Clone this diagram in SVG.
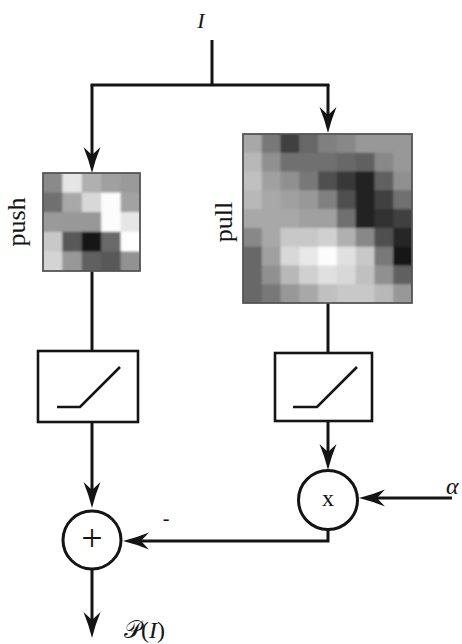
<svg xmlns="http://www.w3.org/2000/svg" xmlns:xlink="http://www.w3.org/1999/xlink" width="462" height="644" viewBox="0 0 462 644">
  <style>
    .wire { fill: none; stroke: #141414; stroke-width: 3; }
    .arrow { fill: none; stroke: #141414; stroke-width: 3; marker-end: url(#head); }
    .block { fill: #ffffff; stroke: #141414; stroke-width: 2.6; }
    .ramp { fill: none; stroke: #141414; stroke-width: 2.6; stroke-linejoin: miter; }
    .op { fill: #ffffff; stroke: #141414; stroke-width: 3; }
    .frame { fill: none; stroke: #555555; stroke-width: 1.8; }
    .label { font-family: "Liberation Serif", "DejaVu Serif", serif; fill: #141414; }
    .math { font-family: "Liberation Serif", "DejaVu Serif", serif; font-style: italic; fill: #141414; }
    .up { font-style: normal; }
  </style>
  <defs>
    <!-- LaTeX-style stealth head; tip sits 10 units past the path end -->
    <marker id="head" markerUnits="userSpaceOnUse" viewBox="-20 -10 32 20" markerWidth="32" markerHeight="20" refX="0" refY="0" orient="auto" overflow="visible">
      <path d="M10,0 Q-3,-3.2 -16,-8.5 L-8,0 L-16,8.5 Q-3,3.2 10,0 Z" fill="#141414"/>
    </marker>
    <filter id="soft" x="-10%" y="-10%" width="120%" height="120%">
      <feGaussianBlur stdDeviation="1.3"/>
    </filter>
    <clipPath id="clipPush"><rect x="43" y="173" width="97" height="98"/></clipPath>
    <clipPath id="clipPull"><rect x="243" y="134" width="169" height="169"/></clipPath>

    <!-- 5x5 push weights, one unit per cell -->
    <g id="pushCells">
      <rect x="0" y="0" width="1.02" height="1.02" fill="#8a8a8a"/>
      <rect x="1" y="0" width="1.02" height="1.02" fill="#e6e6e6"/>
      <rect x="2" y="0" width="1.02" height="1.02" fill="#b0b0b0"/>
      <rect x="3" y="0" width="1.02" height="1.02" fill="#a0a0a0"/>
      <rect x="4" y="0" width="1.02" height="1.02" fill="#9a9a9a"/>
      <rect x="0" y="1" width="1.02" height="1.02" fill="#707070"/>
      <rect x="1" y="1" width="1.02" height="1.02" fill="#a8a8a8"/>
      <rect x="2" y="1" width="1.02" height="1.02" fill="#d8d8d8"/>
      <rect x="3" y="1" width="1.02" height="1.02" fill="#fcfcfc"/>
      <rect x="4" y="1" width="1.02" height="1.02" fill="#a2a2a2"/>
      <rect x="0" y="2" width="1.02" height="1.02" fill="#9a9a9a"/>
      <rect x="1" y="2" width="1.02" height="1.02" fill="#989898"/>
      <rect x="2" y="2" width="1.02" height="1.02" fill="#989898"/>
      <rect x="3" y="2" width="1.02" height="1.02" fill="#fcfcfc"/>
      <rect x="4" y="2" width="1.02" height="1.02" fill="#e6e6e6"/>
      <rect x="0" y="3" width="1.02" height="1.02" fill="#c8c8c8"/>
      <rect x="1" y="3" width="1.02" height="1.02" fill="#585858"/>
      <rect x="2" y="3" width="1.02" height="1.02" fill="#181818"/>
      <rect x="3" y="3" width="1.02" height="1.02" fill="#6a6a6a"/>
      <rect x="4" y="3" width="1.02" height="1.02" fill="#ffffff"/>
      <rect x="0" y="4" width="1.02" height="1.02" fill="#d4d4d4"/>
      <rect x="1" y="4" width="1.02" height="1.02" fill="#989898"/>
      <rect x="2" y="4" width="1.02" height="1.02" fill="#606060"/>
      <rect x="3" y="4" width="1.02" height="1.02" fill="#585858"/>
      <rect x="4" y="4" width="1.02" height="1.02" fill="#929292"/>
    </g>

    <!-- 9x9 pull weights, one unit per cell -->
    <g id="pullCells">
      <rect x="0" y="0" width="1.02" height="1.02" fill="#a8a8a8"/>
      <rect x="1" y="0" width="1.02" height="1.02" fill="#787878"/>
      <rect x="2" y="0" width="1.02" height="1.02" fill="#404040"/>
      <rect x="3" y="0" width="1.02" height="1.02" fill="#686868"/>
      <rect x="4" y="0" width="1.02" height="1.02" fill="#808080"/>
      <rect x="5" y="0" width="1.02" height="1.02" fill="#888888"/>
      <rect x="6" y="0" width="1.02" height="1.02" fill="#989898"/>
      <rect x="7" y="0" width="1.02" height="1.02" fill="#989898"/>
      <rect x="8" y="0" width="1.02" height="1.02" fill="#989898"/>

      <rect x="0" y="1" width="1.02" height="1.02" fill="#b8b8b8"/>
      <rect x="1" y="1" width="1.02" height="1.02" fill="#909090"/>
      <rect x="2" y="1" width="1.02" height="1.02" fill="#707070"/>
      <rect x="3" y="1" width="1.02" height="1.02" fill="#707070"/>
      <rect x="4" y="1" width="1.02" height="1.02" fill="#707070"/>
      <rect x="5" y="1" width="1.02" height="1.02" fill="#686868"/>
      <rect x="6" y="1" width="1.02" height="1.02" fill="#606060"/>
      <rect x="7" y="1" width="1.02" height="1.02" fill="#888888"/>
      <rect x="8" y="1" width="1.02" height="1.02" fill="#989898"/>

      <rect x="0" y="2" width="1.02" height="1.02" fill="#c0c0c0"/>
      <rect x="1" y="2" width="1.02" height="1.02" fill="#a0a0a0"/>
      <rect x="2" y="2" width="1.02" height="1.02" fill="#909090"/>
      <rect x="3" y="2" width="1.02" height="1.02" fill="#787878"/>
      <rect x="4" y="2" width="1.02" height="1.02" fill="#505050"/>
      <rect x="5" y="2" width="1.02" height="1.02" fill="#383838"/>
      <rect x="6" y="2" width="1.02" height="1.02" fill="#202020"/>
      <rect x="7" y="2" width="1.02" height="1.02" fill="#606060"/>
      <rect x="8" y="2" width="1.02" height="1.02" fill="#909090"/>

      <rect x="0" y="3" width="1.02" height="1.02" fill="#b8b8b8"/>
      <rect x="1" y="3" width="1.02" height="1.02" fill="#a8a8a8"/>
      <rect x="2" y="3" width="1.02" height="1.02" fill="#a0a0a0"/>
      <rect x="3" y="3" width="1.02" height="1.02" fill="#989898"/>
      <rect x="4" y="3" width="1.02" height="1.02" fill="#808080"/>
      <rect x="5" y="3" width="1.02" height="1.02" fill="#505050"/>
      <rect x="6" y="3" width="1.02" height="1.02" fill="#202020"/>
      <rect x="7" y="3" width="1.02" height="1.02" fill="#404040"/>
      <rect x="8" y="3" width="1.02" height="1.02" fill="#707070"/>

      <rect x="0" y="4" width="1.02" height="1.02" fill="#a8a8a8"/>
      <rect x="1" y="4" width="1.02" height="1.02" fill="#a8a8a8"/>
      <rect x="2" y="4" width="1.02" height="1.02" fill="#a8a8a8"/>
      <rect x="3" y="4" width="1.02" height="1.02" fill="#a0a0a0"/>
      <rect x="4" y="4" width="1.02" height="1.02" fill="#a0a0a0"/>
      <rect x="5" y="4" width="1.02" height="1.02" fill="#707070"/>
      <rect x="6" y="4" width="1.02" height="1.02" fill="#202020"/>
      <rect x="7" y="4" width="1.02" height="1.02" fill="#303030"/>
      <rect x="8" y="4" width="1.02" height="1.02" fill="#404040"/>

      <rect x="0" y="5" width="1.02" height="1.02" fill="#888888"/>
      <rect x="1" y="5" width="1.02" height="1.02" fill="#a8a8a8"/>
      <rect x="2" y="5" width="1.02" height="1.02" fill="#c8c8c8"/>
      <rect x="3" y="5" width="1.02" height="1.02" fill="#c8c8c8"/>
      <rect x="4" y="5" width="1.02" height="1.02" fill="#d0d0d0"/>
      <rect x="5" y="5" width="1.02" height="1.02" fill="#b0b0b0"/>
      <rect x="6" y="5" width="1.02" height="1.02" fill="#888888"/>
      <rect x="7" y="5" width="1.02" height="1.02" fill="#505050"/>
      <rect x="8" y="5" width="1.02" height="1.02" fill="#282828"/>

      <rect x="0" y="6" width="1.02" height="1.02" fill="#686868"/>
      <rect x="1" y="6" width="1.02" height="1.02" fill="#a0a0a0"/>
      <rect x="2" y="6" width="1.02" height="1.02" fill="#d8d8d8"/>
      <rect x="3" y="6" width="1.02" height="1.02" fill="#e8e8e8"/>
      <rect x="4" y="6" width="1.02" height="1.02" fill="#fcfcfc"/>
      <rect x="5" y="6" width="1.02" height="1.02" fill="#e0e0e0"/>
      <rect x="6" y="6" width="1.02" height="1.02" fill="#c8c8c8"/>
      <rect x="7" y="6" width="1.02" height="1.02" fill="#787878"/>
      <rect x="8" y="6" width="1.02" height="1.02" fill="#181818"/>

      <rect x="0" y="7" width="1.02" height="1.02" fill="#686868"/>
      <rect x="1" y="7" width="1.02" height="1.02" fill="#909090"/>
      <rect x="2" y="7" width="1.02" height="1.02" fill="#b8b8b8"/>
      <rect x="3" y="7" width="1.02" height="1.02" fill="#d0d0d0"/>
      <rect x="4" y="7" width="1.02" height="1.02" fill="#e0e0e0"/>
      <rect x="5" y="7" width="1.02" height="1.02" fill="#d8d8d8"/>
      <rect x="6" y="7" width="1.02" height="1.02" fill="#c0c0c0"/>
      <rect x="7" y="7" width="1.02" height="1.02" fill="#909090"/>
      <rect x="8" y="7" width="1.02" height="1.02" fill="#606060"/>

      <rect x="0" y="8" width="1.02" height="1.02" fill="#686868"/>
      <rect x="1" y="8" width="1.02" height="1.02" fill="#787878"/>
      <rect x="2" y="8" width="1.02" height="1.02" fill="#989898"/>
      <rect x="3" y="8" width="1.02" height="1.02" fill="#a8a8a8"/>
      <rect x="4" y="8" width="1.02" height="1.02" fill="#c0c0c0"/>
      <rect x="5" y="8" width="1.02" height="1.02" fill="#c8c8c8"/>
      <rect x="6" y="8" width="1.02" height="1.02" fill="#c8c8c8"/>
      <rect x="7" y="8" width="1.02" height="1.02" fill="#b8b8b8"/>
      <rect x="8" y="8" width="1.02" height="1.02" fill="#989898"/>
    </g>
  </defs>

  <rect width="462" height="644" fill="#ffffff"/>

  <!-- connectors -->
  <g id="connectors">
    <path class="wire" d="M212,40 V85"/>
    <path class="wire" d="M90.5,85 H329.5"/>
    <path class="arrow" d="M92,85 V163"/>
    <path class="arrow" d="M328,85 V123"/>
    <path class="wire" d="M92,271 V351"/>
    <path class="wire" d="M328,303 V353"/>
    <path class="arrow" d="M92,422 V498"/>
    <path class="arrow" d="M92,569 V628"/>
    <path class="arrow" d="M328,421 V460"/>
    <path class="arrow" d="M452,498 H369"/>
    <path class="arrow" d="M328,529 V541 H133"/>
  </g>

  <!-- input -->
  <g id="input">
    <text class="math" x="201" y="28" font-size="22" text-anchor="middle">I</text>
  </g>

  <!-- push kernel -->
  <g id="push">
    <g clip-path="url(#clipPush)">
      <g filter="url(#soft)">
        <use xlink:href="#pushCells" transform="translate(38.2,168.1) scale(21.34,21.56)"/>
        <use xlink:href="#pushCells" transform="translate(43,173) scale(19.4,19.6)"/>
      </g>
    </g>
    <rect class="frame" x="43" y="173" width="97" height="98"/>
    <text class="label" font-size="26" text-anchor="middle" transform="translate(25,222) rotate(-90)">push</text>
  </g>

  <!-- pull kernel -->
  <g id="pull">
    <g clip-path="url(#clipPull)">
      <g filter="url(#soft)">
        <use xlink:href="#pullCells" transform="translate(238.8,129.8) scale(19.71,19.71)"/>
        <use xlink:href="#pullCells" transform="translate(243,134) scale(18.78,18.78)"/>
      </g>
    </g>
    <rect class="frame" x="243" y="134" width="169" height="169"/>
    <text class="label" font-size="26" text-anchor="middle" transform="translate(232,222) rotate(-90)">pull</text>
  </g>

  <!-- rectifiers -->
  <g id="relu-push">
    <rect class="block" x="38" y="351" width="100" height="71"/>
    <path class="ramp" d="M57,407 H80 L120,367"/>
  </g>
  <g id="relu-pull">
    <rect class="block" x="275" y="353" width="97" height="68"/>
    <path class="ramp" d="M293,407 H317 L357,367"/>
  </g>

  <!-- multiplier -->
  <g id="mult">
    <circle class="op" cx="328" cy="500" r="29.5"/>
    <text class="label" x="328" y="506" font-size="24" text-anchor="middle">x</text>
  </g>
  <g id="alpha">
    <text class="math" x="446" y="494" font-size="24">α</text>
  </g>

  <!-- summation -->
  <g id="sum">
    <circle class="op" cx="92" cy="540" r="29"/>
    <text class="label" x="92" y="551" font-size="38" text-anchor="middle">+</text>
    <text class="label" x="166" y="525" font-size="20" text-anchor="middle">-</text>
  </g>

  <!-- output -->
  <g id="output">
    <text class="math" x="124" y="638" font-size="24"><tspan class="up">𝒫</tspan><tspan class="up">(</tspan>I<tspan class="up">)</tspan></text>
  </g>
</svg>
